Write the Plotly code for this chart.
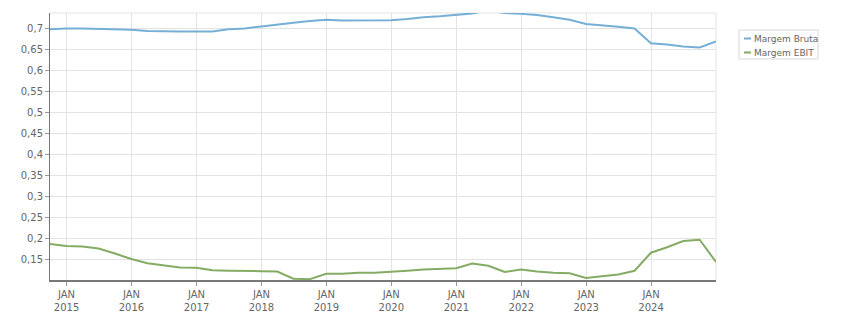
import pandas as pd
import plotly.graph_objects as go

dates = pd.date_range("2014-09-30", periods=42, freq="QE")

margem_bruta = [0.697, 0.699, 0.699, 0.698, 0.697, 0.696, 0.693, 0.692, 0.692, 0.692,
                0.692, 0.697, 0.699, 0.704, 0.709, 0.713, 0.717, 0.720, 0.718, 0.718,
                0.718, 0.719, 0.722, 0.726, 0.728, 0.731, 0.735, 0.742, 0.736, 0.734,
                0.731, 0.726, 0.720, 0.710, 0.707, 0.703, 0.699, 0.664, 0.661, 0.656,
                0.654, 0.668]

margem_ebit = [0.186, 0.181, 0.180, 0.175, 0.163, 0.150, 0.140, 0.135, 0.130, 0.129,
               0.123, 0.122, 0.122, 0.121, 0.120, 0.103, 0.102, 0.115, 0.115, 0.117,
               0.117, 0.119, 0.122, 0.125, 0.126, 0.128, 0.139, 0.134, 0.119, 0.125,
               0.120, 0.117, 0.116, 0.105, 0.109, 0.113, 0.122, 0.165, 0.178, 0.193,
               0.196, 0.143]

y_ticks = [0.15, 0.2, 0.25, 0.3, 0.35, 0.4, 0.45, 0.5, 0.55, 0.6, 0.65, 0.7]
y_labels = ["0,15", "0,2", "0,25", "0,3", "0,35", "0,4", "0,45", "0,5", "0,55", "0,6", "0,65", "0,7"]
x_years = list(range(2015, 2025))
x_ticks = [f"{y}-01-01" for y in x_years]
x_labels = [f"JAN<br>{y}" for y in x_years]

series_names = ["Margem Bruta", "Margem EBIT"]
colors = ["#76afd6", "#84ac64"]

W, H = 851, 313
L, R, T, B = 50, 716, 13, 280

def px(x):
    return (x - L) / (R - L)

def py(y):
    return (B - y) / (B - T)

fig = go.Figure()
for name, vals, c in zip(series_names, [margem_bruta, margem_ebit], colors):
    fig.add_trace(go.Scatter(x=dates, y=vals, mode="lines", name=name,
                             line=dict(color=c, width=2), showlegend=False))

font = dict(family="DejaVu Sans", size=10, color="#666666")

fig.update_layout(
    width=W, height=H,
    margin=dict(l=L, r=W - R, t=T, b=H - B, pad=0, autoexpand=False),
    paper_bgcolor="white", plot_bgcolor="white",
    font=font,
    xaxis=dict(range=["2014-09-30", "2024-12-31"], tickvals=x_ticks, ticktext=x_labels,
               showgrid=True, gridcolor="#e3e3e3", gridwidth=1,
               showline=True, linecolor="#777777", linewidth=2,
               ticks="outside", ticklen=4, tickcolor="#999999", zeroline=False,
               tickfont=font, automargin=False),
    yaxis=dict(range=[0.1, 0.736], tickvals=y_ticks, ticktext=y_labels,
               showgrid=True, gridcolor="#e3e3e3", gridwidth=1,
               showline=True, linecolor="#777777", linewidth=1,
               ticks="outside", ticklen=4, tickcolor="#999999", zeroline=False,
               tickfont=font, automargin=False),
)

# top and right frame
fig.add_shape(type="line", xref="paper", yref="paper", x0=0, x1=1, y0=1, y1=1,
              line=dict(color="#e3e3e3", width=1), layer="below")
fig.add_shape(type="line", xref="paper", yref="paper", x0=1, x1=1, y0=0, y1=1,
              line=dict(color="#e3e3e3", width=1), layer="below")

# legend box
fig.add_shape(type="rect", xref="paper", yref="paper",
              x0=px(739), x1=px(818), y0=py(59), y1=py(30),
              line=dict(color="#d8d8d8", width=1), fillcolor="white")
for i, (name, c) in enumerate(zip(series_names, colors)):
    yc = 38.5 + 14 * i
    fig.add_shape(type="line", xref="paper", yref="paper",
                  x0=px(744), x1=px(751), y0=py(yc), y1=py(yc),
                  line=dict(color=c, width=2))
    fig.add_annotation(xref="paper", yref="paper", x=px(752), y=py(yc),
                       text=name, showarrow=False, xanchor="left", yanchor="middle",
                       font=dict(family="DejaVu Sans", size=9, color="#666666"))

fig.write_html("out.html")
